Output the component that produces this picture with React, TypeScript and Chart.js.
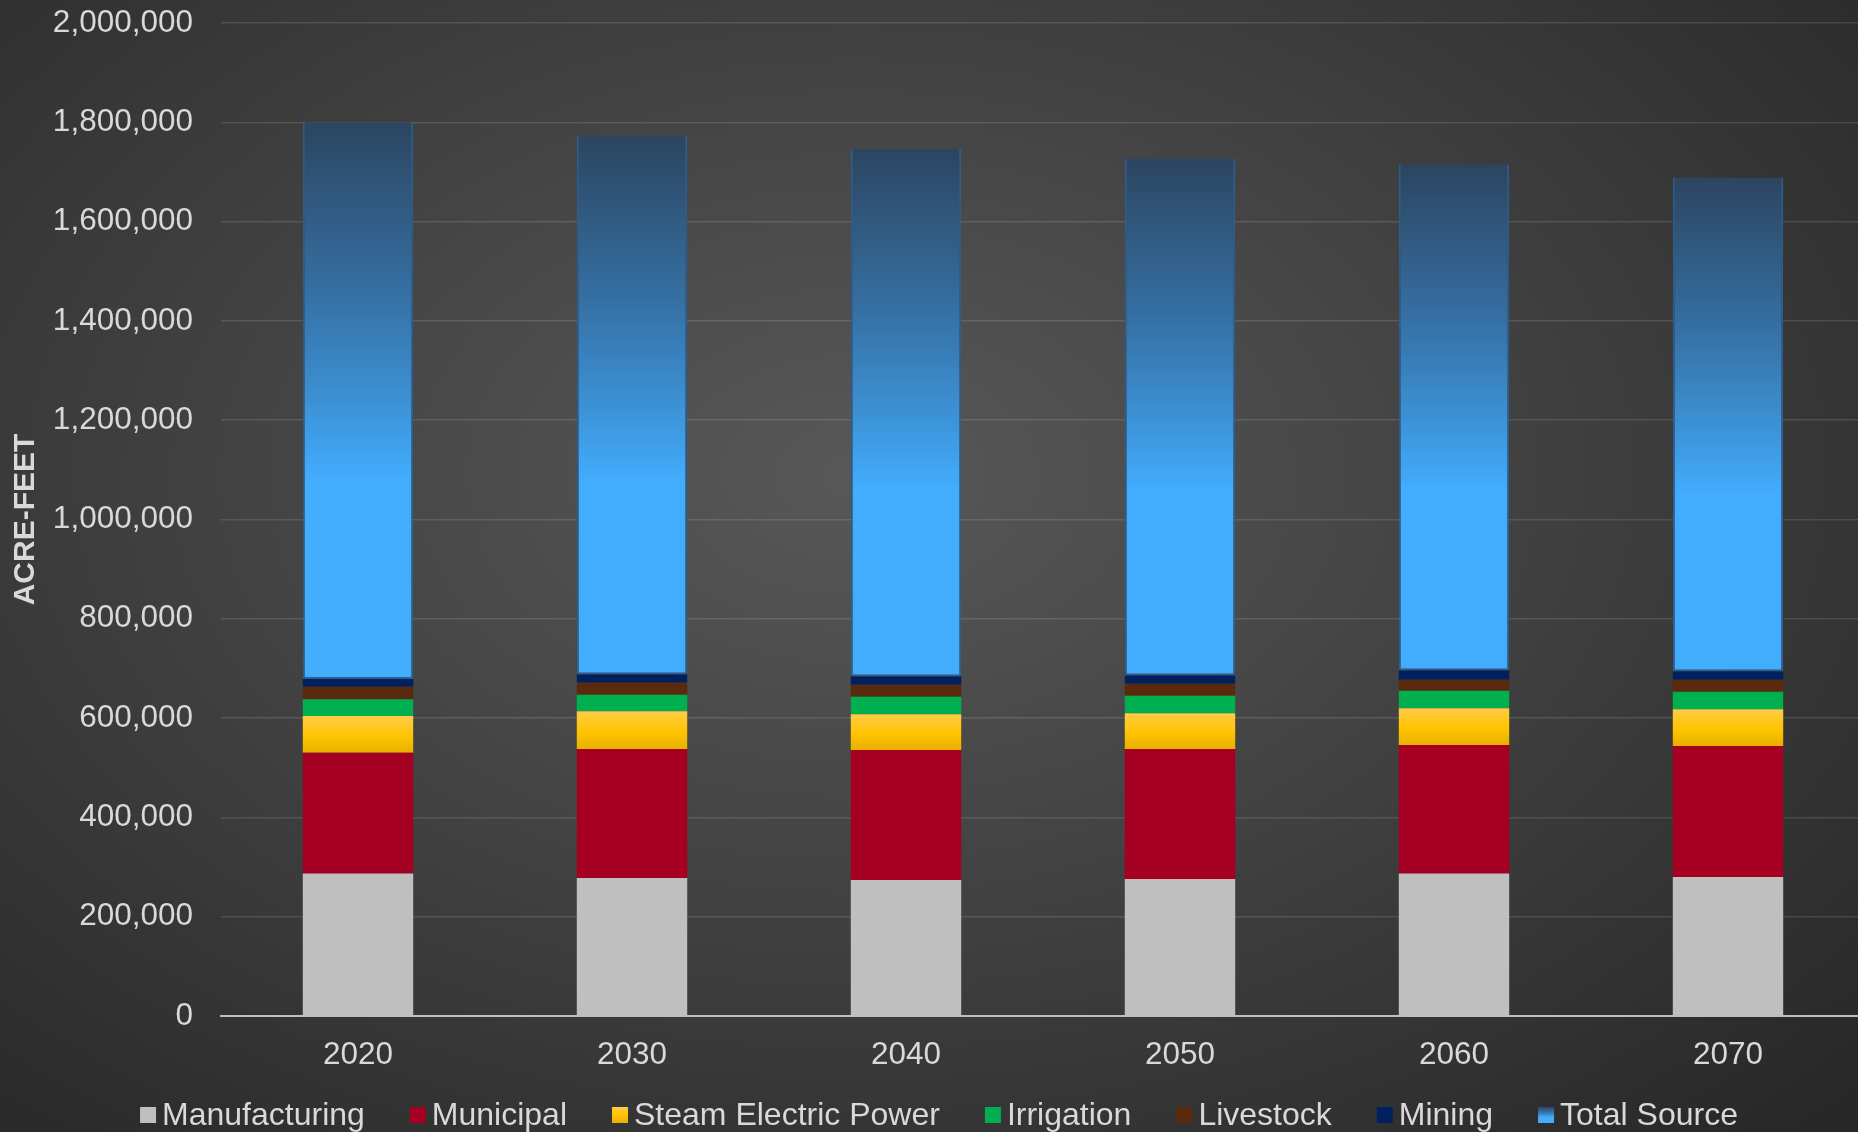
import React, { useEffect, useRef } from "react";
import { Chart, registerables } from "chart.js";

Chart.register(...registerables);

const years = ["2020", "2030", "2040", "2050", "2060", "2070"];
const manufacturing = [287000, 278000, 274000, 276000, 287000, 280000];
const municipal = [243000, 260000, 262000, 262000, 259000, 264000];
const steamElectric = [74000, 76000, 72000, 72000, 74000, 74000];
const irrigation = [34000, 33000, 35000, 35000, 35000, 35000];
const livestock = [25000, 24000, 24000, 24000, 22000, 24000];
const mining = [16000, 17000, 17000, 17000, 19000, 17000];
const totalSource = [1121000, 1086000, 1062000, 1041000, 1019000, 995000];

const yMax = 2000000;
const yStep = 200000;
const yTitle = "ACRE-FEET";

const FONT = "'Liberation Sans', Arial, sans-serif";
const TEXT = "#d9d9d9";

type Stop = [number, string];
const steamStops: Stop[] = [
  [0, "#ffcb48"],
  [0.55, "#ffc400"],
  [1, "#e8b000"],
];
const totalStops: Stop[] = [
  [0, "#2c4560"],
  [0.3, "#356fa2"],
  [0.5, "#3c91d4"],
  [0.64, "#42acfd"],
  [1, "#42acfd"],
];

const series: { label: string; data: number[]; color: string; stops?: Stop[] }[] = [
  { label: "Manufacturing", data: manufacturing, color: "#bfbfbf" },
  { label: "Municipal", data: municipal, color: "#a50021" },
  { label: "Steam Electric Power", data: steamElectric, color: "#ffc000", stops: steamStops },
  { label: "Irrigation", data: irrigation, color: "#00b050" },
  { label: "Livestock", data: livestock, color: "#5a2a0c" },
  { label: "Mining", data: mining, color: "#002060" },
  { label: "Total Source", data: totalSource, color: "#42acfd", stops: totalStops },
];

function gradientFor(seriesIndex: number) {
  const s = series[seriesIndex];
  return (c: any) => {
    const chart = c.chart;
    if (!s.stops || !chart.chartArea || c.type !== "data") return s.color;
    const i = c.dataIndex;
    let base = 0;
    for (let k = 0; k < seriesIndex; k++) base += series[k].data[i];
    const top = base + s.data[i];
    const ys = chart.scales.y;
    const y0 = ys.getPixelForValue(top);
    const y1 = ys.getPixelForValue(base);
    const g = chart.ctx.createLinearGradient(0, y0, 0, y1);
    s.stops.forEach(([o, col]) => g.addColorStop(o, col));
    return g;
  };
}

const PLOT_RIGHT = 1865;

const decorPlugin = {
  id: "decor",
  afterLayout(chart: any) {
    const x = chart.scales.x;
    x.right = PLOT_RIGHT;
    x.width = x.right - x.left;
    x.configure();
    chart.chartArea.right = PLOT_RIGHT;
    chart.chartArea.width = PLOT_RIGHT - chart.chartArea.left;
  },
  afterDraw(chart: any) {
    const ctx = chart.ctx as CanvasRenderingContext2D;
    const area = chart.chartArea;
    ctx.save();
    // y axis title
    ctx.translate(26, (area.top + area.bottom) / 2);
    ctx.rotate(-Math.PI / 2);
    ctx.font = `bold 30px ${FONT}`;
    ctx.fillStyle = TEXT;
    ctx.textAlign = "center";
    ctx.textBaseline = "middle";
    ctx.fillText(yTitle, 0, 0);
    ctx.restore();

    // legend
    ctx.save();
    ctx.font = `32px ${FONT}`;
    const box = 16;
    const gapBoxText = 6;
    const gapItems = 45;
    const widths = series.map((s) => ctx.measureText(s.label).width);
    const total =
      widths.reduce((a, b) => a + b, 0) + series.length * (box + gapBoxText) + (series.length - 1) * gapItems;
    let x = 939 - total / 2;
    const cy = 1115;
    series.forEach((s, i) => {
      if (s.stops) {
        const g = ctx.createLinearGradient(0, cy - box / 2, 0, cy + box / 2);
        s.stops.forEach(([o, col]) => g.addColorStop(o, col));
        ctx.fillStyle = g;
      } else {
        ctx.fillStyle = s.color;
      }
      ctx.fillRect(x, cy - box / 2, box, box);
      x += box + gapBoxText;
      ctx.fillStyle = TEXT;
      ctx.textBaseline = "middle";
      ctx.textAlign = "left";
      ctx.fillText(s.label, x, cy + 1);
      x += widths[i] + gapItems;
    });
    ctx.restore();
  },
};

export default function App() {
  const ref = useRef<HTMLCanvasElement | null>(null);
  useEffect(() => {
    document.body.style.margin = "0";
    const canvas = ref.current;
    if (!canvas) return;
    const chart = new Chart(canvas, {
      type: "bar",
      data: {
        labels: years,
        datasets: series.map((s, idx) => ({
          label: s.label,
          data: s.data,
          backgroundColor: gradientFor(idx) as any,
          borderWidth: s.label === "Total Source" ? { top: 0, left: 2, right: 2, bottom: 2 } : 0,
          borderColor: "#2d5d8c",
          borderSkipped: false,
          categoryPercentage: 1,
          barPercentage: 0.403,
        })),
      },
      options: {
        animation: false,
        responsive: false,
        devicePixelRatio: 1,
        layout: { padding: { left: 0, right: 0, top: 23, bottom: 59 } },
        plugins: {
          legend: { display: false },
          tooltip: { enabled: false },
        },
        scales: {
          x: {
            stacked: true,
            grid: { display: false, drawTicks: false },
            border: { display: true, color: "#bfbfbf", width: 2 },
            ticks: { color: TEXT, font: { family: FONT, size: 31.5 }, padding: 20, maxRotation: 0 },
            afterFit: (scale: any) => {
              scale.height = 57;
              scale.paddingLeft = 0;
              scale.paddingRight = 0;
            },
          },
          y: {
            stacked: true,
            min: 0,
            max: yMax,
            grid: { color: "rgba(255,255,255,0.12)", lineWidth: 1.5, drawTicks: false },
            border: { display: false },
            ticks: {
              stepSize: yStep,
              color: TEXT,
              font: { family: FONT, size: 31.5 },
              padding: 28,
              callback: (v: any) => Number(v).toLocaleString("en-US"),
            },
            afterFit: (scale: any) => {
              scale.width = 221;
              scale.paddingTop = 0;
              scale.paddingBottom = 0;
            },
          },
        },
      },
      plugins: [decorPlugin],
    });
    return () => chart.destroy();
  }, []);

  return (
    <div
      style={{
        width: 1858,
        height: 1132,
        position: "relative",
        overflow: "hidden",
        background:
          "radial-gradient(ellipse farthest-corner at 46% 42%, #585858 0%, #474747 35%, #353535 70%, #262626 100%)",
      }}
    >
      <canvas ref={ref} width={1858} height={1132} style={{ display: "block" }} />
    </div>
  );
}
